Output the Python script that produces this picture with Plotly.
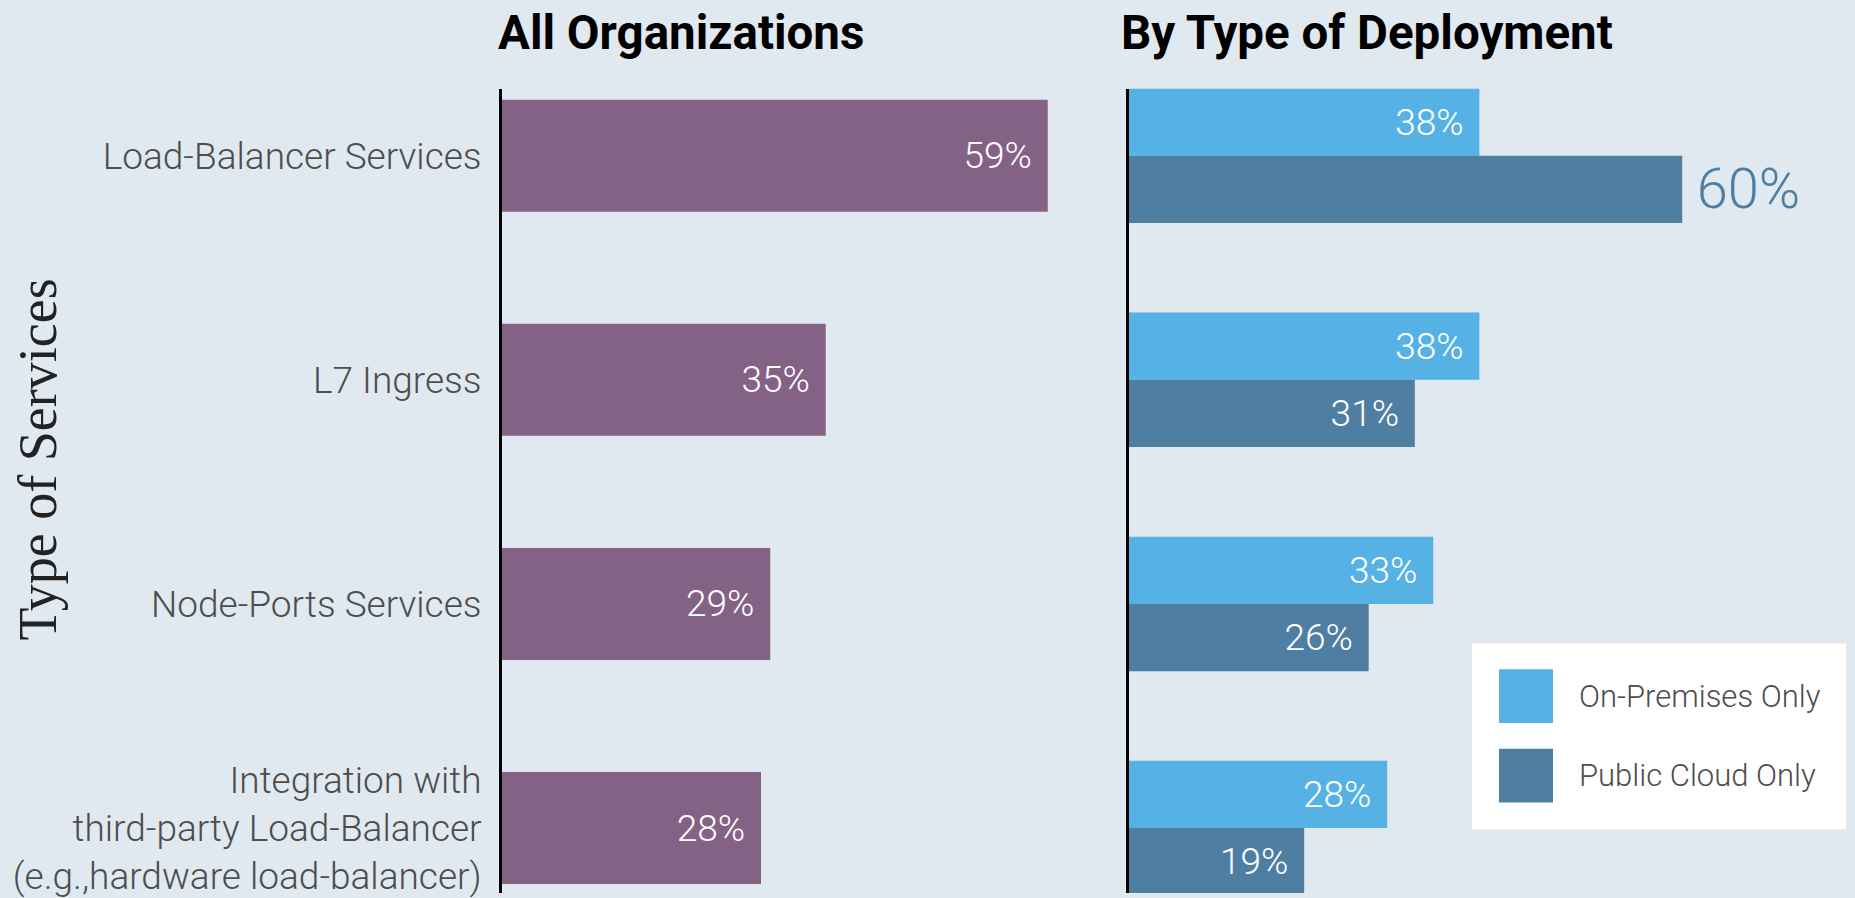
import plotly.graph_objects as go

categories = [
    "Load-Balancer Services",
    "L7 Ingress",
    "Node-Ports Services",
    "Integration with<br>third-party Load-Balancer<br>(e.g.,hardware load-balancer)",
]
all_orgs = [59, 35, 29, 28]
on_prem = [38, 38, 33, 28]
public_cloud = [60, 31, 26, 19]
series_names = ["On-Premises Only", "Public Cloud Only"]

BG = "#E0E8F0"
PURPLE = "#846286"
LIGHT = "#56B2E5"
DARK = "#4E7FA3"
W, H = 1855, 898
PAD = "\u00a0\u200a"
LEAD = "\u2009"

def px_x(p):
    return p / W

def px_y(p):
    return 1 - p / H

fig = go.Figure()

fig.add_trace(go.Bar(
    y=categories, x=all_orgs, orientation="h", width=0.5,
    marker=dict(color=PURPLE, line=dict(width=0)),
    text=[f"{v}%{PAD}" for v in all_orgs],
    textposition="inside", insidetextanchor="end",
    textfont=dict(family="Roboto", size=37, color="white", weight=300),
    xaxis="x", yaxis="y", showlegend=False, cliponaxis=False,
))

fig.add_trace(go.Bar(
    y=categories, x=on_prem, orientation="h", name=series_names[0],
    marker=dict(color=LIGHT, line=dict(width=0)),
    text=[f"{v}%{PAD}" for v in on_prem],
    textposition="inside", insidetextanchor="end",
    textfont=dict(family="Roboto", size=37, color="white", weight=300),
    xaxis="x2", yaxis="y2", showlegend=False,
))

pc_pos = ["outside"] + ["inside"] * (len(public_cloud) - 1)
pc_text = [f"{LEAD}{public_cloud[0]}%"] + [f"{v}%{PAD}" for v in public_cloud[1:]]
fig.add_trace(go.Bar(
    y=categories, x=public_cloud, orientation="h", name=series_names[1],
    marker=dict(color=DARK, line=dict(width=0)),
    text=pc_text,
    textposition=pc_pos, insidetextanchor="end",
    textfont=dict(family="Roboto", size=[56] + [37] * 3,
                  color=[DARK] + ["white"] * 3, weight=300),
    xaxis="x2", yaxis="y2", showlegend=False, cliponaxis=False,
))

yrange = [3.29, -0.3]
ydom = [0, px_y(89)]

fig.update_layout(
    width=W, height=H,
    margin=dict(l=0, r=0, t=0, b=0),
    paper_bgcolor=BG, plot_bgcolor=BG,
    barmode="group", bargap=0.4, bargroupgap=0,
    showlegend=False,
    xaxis=dict(domain=[px_x(502), px_x(1112)], range=[0, 610 / 9.25],
               showgrid=False, zeroline=False, showticklabels=False, showline=False),
    yaxis=dict(domain=ydom, range=yrange, type="category",
               showgrid=False, zeroline=False, showline=True, linecolor="black", linewidth=3,
               ticks="", ticklabelstandoff=10,
               tickfont=dict(family="Roboto", size=37, color="#4D4D4D", weight=300)),
    xaxis2=dict(domain=[px_x(1129), 1.0], range=[0, 726 / 9.22],
                showgrid=False, zeroline=False, showticklabels=False, showline=False),
    yaxis2=dict(domain=ydom, range=yrange, type="category", anchor="x2",
                showgrid=False, zeroline=False, showline=True, linecolor="black", linewidth=3,
                showticklabels=False, ticks=""),
    font=dict(family="Roboto"),
)

annotations = [
    dict(text="All Organizations", x=px_x(496), y=px_y(33), xref="paper", yref="paper",
         xanchor="left", yanchor="middle", showarrow=False,
         font=dict(family="Roboto", size=47.5, color="black", weight=700)),
    dict(text="By Type of Deployment", x=px_x(1119), y=px_y(33), xref="paper", yref="paper",
         xanchor="left", yanchor="middle", showarrow=False,
         font=dict(family="Roboto", size=47.5, color="black", weight=700)),
    dict(text="Type of Services", x=px_x(38), y=px_y(462), xref="paper", yref="paper",
         xanchor="center", yanchor="middle", textangle=-90, showarrow=False,
         font=dict(family="Liberation Serif", size=54, color="#222222")),
    dict(text=series_names[0], x=px_x(1577), y=px_y(700), xref="paper", yref="paper",
         xanchor="left", yanchor="middle", showarrow=False,
         font=dict(family="Roboto", size=31, color="#4D4D4D", weight=300)),
    dict(text=series_names[1], x=px_x(1577), y=px_y(780), xref="paper", yref="paper",
         xanchor="left", yanchor="middle", showarrow=False,
         font=dict(family="Roboto", size=31, color="#4D4D4D", weight=300)),
]
fig.update_layout(annotations=annotations)

shapes = [
    dict(type="rect", xref="paper", yref="paper", x0=px_x(1472), x1=px_x(1846),
         y0=px_y(834), y1=px_y(647), fillcolor="white", line=dict(width=0), layer="above"),
    dict(type="rect", xref="paper", yref="paper", x0=px_x(1499), x1=px_x(1553),
         y0=px_y(727), y1=px_y(673), fillcolor=LIGHT, line=dict(width=0), layer="above"),
    dict(type="rect", xref="paper", yref="paper", x0=px_x(1499), x1=px_x(1553),
         y0=px_y(807), y1=px_y(753), fillcolor=DARK, line=dict(width=0), layer="above"),
]
fig.update_layout(shapes=shapes)

fig.write_html(
    "out.html",
    config={"displayModeBar": False},
    post_script="document.body.style.margin='0';document.body.style.overflow='hidden';",
)
